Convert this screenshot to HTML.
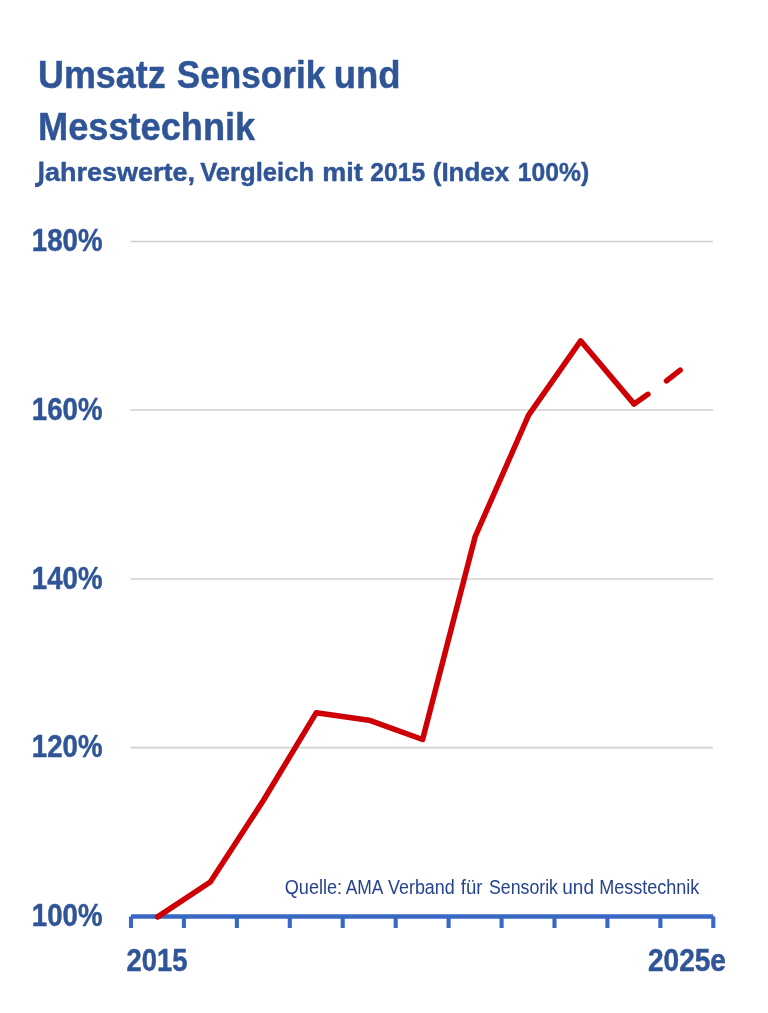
<!DOCTYPE html>
<html lang="de">
<head>
<meta charset="utf-8">
<title>Umsatz Sensorik und Messtechnik</title>
<style>
  html, body { margin: 0; padding: 0; background: #ffffff; }
  body { width: 768px; height: 1013px; overflow: hidden; font-family: "Liberation Sans", sans-serif; }
  svg { display: block; }
  text { font-family: "Liberation Sans", sans-serif; fill: #2F5597; }
  .b { font-weight: bold; stroke: #2F5597; stroke-width: 0.45px; stroke-linejoin: round; }
  .q { fill: #27428F; }
  svg { will-change: transform; }
</style>
</head>
<body>
<svg width="768" height="1013" viewBox="0 0 768 1013">
  <rect x="0" y="0" width="768" height="1013" fill="#ffffff"/>
  <!-- grid lines -->
  <g stroke="#D0D0D0" stroke-width="1.7">
    <line x1="130.5" y1="241.5" x2="713" y2="241.5"/>
    <line x1="130.5" y1="410.0" x2="713" y2="410.0"/>
    <line x1="130.5" y1="579.0" x2="713" y2="579.0"/>
    <line x1="130.5" y1="747.6" x2="713" y2="747.6"/>
  </g>

  <!-- x axis -->
  <g stroke="#3867C4" stroke-width="4.5" fill="none">
    <line x1="131" y1="916.4" x2="713.3" y2="916.4"/>
    <path d="M131.0 916.6V928 M183.9 916.6V928 M236.9 916.6V928 M289.8 916.6V928 M342.7 916.6V928 M395.7 916.6V928 M448.6 916.6V928 M501.6 916.6V928 M554.5 916.6V928 M607.4 916.6V928 M660.4 916.6V928 M713.3 916.6V928" stroke-width="4.1"/>
  </g>

  <!-- data line -->
  <g fill="none" stroke="#CE0006" stroke-width="5.5" stroke-linecap="round" stroke-linejoin="round">
    <polyline points="157.6,916.9 210.3,882 263,801 316.3,712.7 369,720.2 422.6,739.5 475.2,536.5 528.6,415.2 580.6,340.8 634,403.9"/>
    <line x1="634" y1="403.9" x2="647.9" y2="394.3"/>
    <line x1="666.5" y1="380.9" x2="680.2" y2="370.1"/>
  </g>

  <!-- J glyph (descending hook) -->
  <path d="M41.35 161.5V179.2C41.35 183.6 39.6 185.1 35.1 185.1" fill="none" stroke="#2F5597" stroke-width="4.2"/>
  <!-- text -->
  <text class="b" x="38.00" y="87.7" font-size="38.8" textLength="127.64" lengthAdjust="spacingAndGlyphs">Umsatz</text>
  <text class="b" x="176.82" y="87.7" font-size="38.8" textLength="148.37" lengthAdjust="spacingAndGlyphs">Sensorik</text>
  <text class="b" x="333.70" y="87.7" font-size="38.8" textLength="66.93" lengthAdjust="spacingAndGlyphs">und</text>
  <text class="b" x="38.02" y="140.1" font-size="38.8" textLength="217.25" lengthAdjust="spacingAndGlyphs">Messtechnik</text>
  <text class="b" x="45.07" y="180.6" font-size="26.5" textLength="149.90" lengthAdjust="spacingAndGlyphs">ahreswerte,</text>
  <text class="b" x="200.16" y="180.6" font-size="26.5" textLength="113.90" lengthAdjust="spacingAndGlyphs">Vergleich</text>
  <text class="b" x="322.34" y="180.6" font-size="26.5" textLength="40.44" lengthAdjust="spacingAndGlyphs">mit</text>
  <text class="b" x="370.37" y="180.6" font-size="26.5" textLength="54.80" lengthAdjust="spacingAndGlyphs">2015</text>
  <text class="b" x="432.75" y="180.6" font-size="26.5" textLength="76.52" lengthAdjust="spacingAndGlyphs">(Index</text>
  <text class="b" x="517.78" y="180.6" font-size="26.5" textLength="71.37" lengthAdjust="spacingAndGlyphs">100%)</text>
  <text class="b" x="31.81" y="251.3" font-size="30.5" textLength="70.71" lengthAdjust="spacingAndGlyphs">180%</text>
  <text class="b" x="31.81" y="419.9" font-size="30.5" textLength="70.71" lengthAdjust="spacingAndGlyphs">160%</text>
  <text class="b" x="31.81" y="588.8" font-size="30.5" textLength="70.71" lengthAdjust="spacingAndGlyphs">140%</text>
  <text class="b" x="31.81" y="757.4" font-size="30.5" textLength="70.71" lengthAdjust="spacingAndGlyphs">120%</text>
  <text class="b" x="31.81" y="926.2" font-size="30.5" textLength="70.71" lengthAdjust="spacingAndGlyphs">100%</text>
  <text class="b" x="126.53" y="971.0" font-size="30.5" textLength="61.00" lengthAdjust="spacingAndGlyphs">2015</text>
  <text class="b" x="647.95" y="971.0" font-size="30.5" textLength="78.00" lengthAdjust="spacingAndGlyphs">2025e</text>
  <text class="q" x="284.73" y="894.1" font-size="19.3" textLength="57.38" lengthAdjust="spacingAndGlyphs">Quelle:</text>
  <text class="q" x="345.76" y="894.1" font-size="19.3" textLength="37.75" lengthAdjust="spacingAndGlyphs">AMA</text>
  <text class="q" x="387.97" y="894.1" font-size="19.3" textLength="66.82" lengthAdjust="spacingAndGlyphs">Verband</text>
  <text class="q" x="460.82" y="894.1" font-size="19.3" textLength="21.69" lengthAdjust="spacingAndGlyphs">für</text>
  <text class="q" x="489.03" y="894.1" font-size="19.3" textLength="68.98" lengthAdjust="spacingAndGlyphs">Sensorik</text>
  <text class="q" x="562.30" y="894.1" font-size="19.3" textLength="31.67" lengthAdjust="spacingAndGlyphs">und</text>
  <text class="q" x="599.19" y="894.1" font-size="19.3" textLength="100.19" lengthAdjust="spacingAndGlyphs">Messtechnik</text>
</svg>
</body>
</html>
